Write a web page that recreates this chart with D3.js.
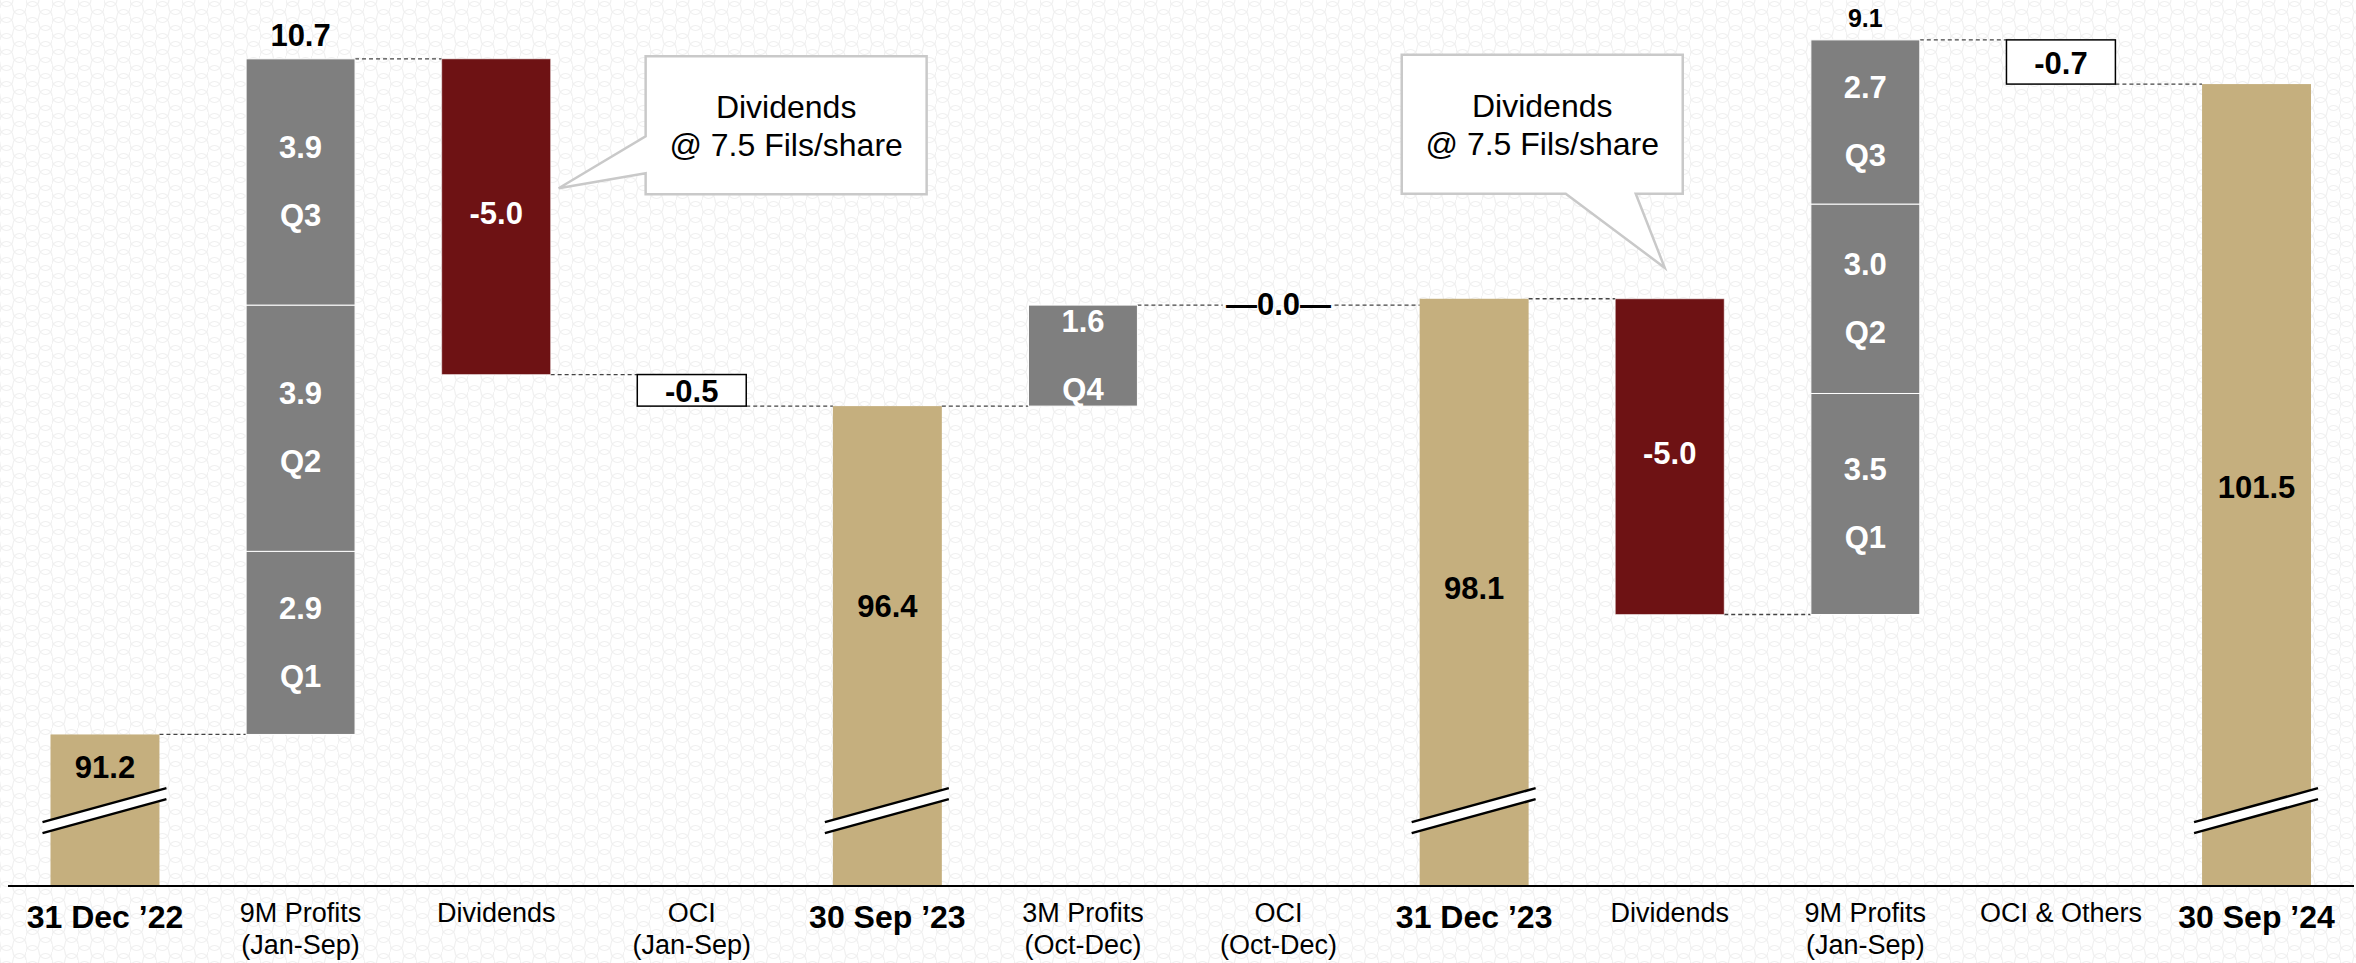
<!DOCTYPE html>
<html><head><meta charset="utf-8">
<script src="https://cdn.jsdelivr.net/npm/d3@7"></script>
<style>html,body{margin:0;padding:0;background:#fff;} svg{display:block;} text{font-family:"Liberation Sans",Arial,sans-serif;}</style>
</head><body><svg id="c" width="2356" height="963"></svg>
<script>
// ---------- DATA ----------
const categoryLines = [
  ["31 Dec ’22"], ["9M Profits", "(Jan-Sep)"], ["Dividends"], ["OCI", "(Jan-Sep)"],
  ["30 Sep ’23"], ["3M Profits", "(Oct-Dec)"], ["OCI", "(Oct-Dec)"], ["31 Dec ’23"],
  ["Dividends"], ["9M Profits", "(Jan-Sep)"], ["OCI & Others"], ["30 Sep ’24"]
];
const barTypes = ["total", "profit", "dividend", "oci", "total", "profit", "oci0", "total", "dividend", "profit", "oci", "total"];
const barValues = [91.2, 10.7, -5.0, -0.5, 96.4, 1.6, 0.0, 98.1, -5.0, 9.1, -0.7, 101.5];
const profitSegments = [[2.9, 3.9, 3.9], [1.6], [3.5, 3.0, 2.7]];
const profitQuarters = [["Q1", "Q2", "Q3"], ["Q4"], ["Q1", "Q2", "Q3"]];
const calloutLines = ["Dividends", "@ 7.5 Fils/share"];
const yDomain = [88.8, 102.8];

// ---------- STYLE ----------
const W = 2356, H = 963;
const colors = { total: "#C5AF7E", profit: "#7F7F7F", dividend: "#6E1214" };
const totalLabelOffset = [32, 200, 289, 403];   // px below bar top
const topLabelSize = [31, null, 25];
const valueSize = 31;
const font = '"Liberation Sans", Arial, sans-serif';

const svg = d3.select("#c");

// subtle background pattern
const defs = svg.append("defs");
const pat = defs.append("pattern").attr("id", "bg").attr("patternUnits", "userSpaceOnUse")
  .attr("width", 26).attr("height", 16);
pat.append("path")
  .attr("d", "M0 8 A6.5 6.5 0 0 1 13 8 A6.5 6.5 0 0 0 26 8 M-13 16 A6.5 6.5 0 0 1 0 16 A6.5 6.5 0 0 0 13 16 A6.5 6.5 0 0 1 26 16 M-13 0 A6.5 6.5 0 0 1 0 0 A6.5 6.5 0 0 0 13 0 A6.5 6.5 0 0 1 26 0")
  .attr("fill", "none").attr("stroke", "#f0f0f0").attr("stroke-width", 1.2);
svg.append("rect").attr("width", W).attr("height", H).attr("fill", "#fff");
svg.append("rect").attr("width", W).attr("height", H).attr("fill", "url(#bg)");

const x = d3.scaleBand().domain(d3.range(barValues.length)).range([50.5, 2311]).paddingInner(0.443).paddingOuter(0);
const y = d3.scaleLinear().domain(yDomain).range([886, 2]);
const bw = x.bandwidth();
const base = y(yDomain[0]);

// ---------- WATERFALL ----------
let running = null, pi = 0, ti = 0;
const bars = barValues.map((v, i) => {
  const t = barTypes[i];
  let b;
  if (t === "total") { b = { i, t, v, start: v, end: v, ti: ti++ }; running = v; }
  else {
    const s = running, e = running + v;
    b = { i, t, v, start: s, end: e, lo: Math.min(s, e), hi: Math.max(s, e) };
    if (t === "profit") { b.segs = profitSegments[pi]; b.qs = profitQuarters[pi]; b.pi = pi; pi++; }
    running = e;
  }
  return b;
});

const gConn = svg.append("g");
const gBars = svg.append("g");
const gText = svg.append("g");

const zeroHalf = 56;
// connectors
for (let i = 0; i < bars.length - 1; i++) {
  const a = bars[i], b = bars[i + 1];
  let x1 = x(i) + bw, x2 = x(i + 1);
  if (a.t === "oci0") x1 = x(i) + bw / 2 + zeroHalf;
  if (b.t === "oci0") x2 = x(i + 1) + bw / 2 - zeroHalf;
  gConn.append("line").attr("x1", x1).attr("x2", x2).attr("y1", y(a.end)).attr("y2", y(a.end))
    .attr("stroke", "#444").attr("stroke-width", 1.3).attr("stroke-dasharray", "4,3");
}

function label(g, cx, cy, txt, size, fill, weight) {
  return g.append("text").attr("x", cx).attr("y", cy).attr("dy", "0.36em")
    .attr("text-anchor", "middle").attr("font-size", size).attr("font-weight", weight || "bold")
    .attr("fill", fill).text(txt);
}

bars.forEach(b => {
  const bx = x(b.i), cx = bx + bw / 2;
  if (b.t === "total") {
    gBars.append("rect").attr("x", bx).attr("y", y(b.v)).attr("width", bw).attr("height", base - y(b.v))
      .attr("fill", colors.total);
    // break mark
    const yc = base - 75.5, slope = 0.274, xl = bx - 8, xr = bx + bw + 7;
    const yu = xx => yc - 5.5 - slope * (xx - cx);
    const yl = xx => yc + 5.5 - slope * (xx - cx);
    gBars.append("path").attr("d", `M${xl},${yu(xl)}L${xr},${yu(xr)}L${xr},${yl(xr)}L${xl},${yl(xl)}Z`).attr("fill", "#fff");
    [yu, yl].forEach(f => gBars.append("line").attr("x1", xl).attr("y1", f(xl)).attr("x2", xr).attr("y2", f(xr))
      .attr("stroke", "#000").attr("stroke-width", 2.5));
    label(gText, cx, y(b.v) + totalLabelOffset[b.ti], b.v.toFixed(1), valueSize, "#000");
  } else if (b.t === "profit") {
    let cum = b.start;
    b.segs.forEach((s, k) => {
      const s0 = cum;
      const s1 = (k === b.segs.length - 1) ? b.end : cum + s;
      cum = s1;
      gBars.append("rect").attr("x", bx).attr("y", y(s1)).attr("width", bw).attr("height", y(s0) - y(s1))
        .attr("fill", colors.profit).attr("stroke", "#fff").attr("stroke-width", 1);
      const mid = (y(s0) + y(s1)) / 2;
      label(gText, cx, mid - 35, s.toFixed(1), valueSize, "#fff");
      label(gText, cx, mid + 33, b.qs[k], valueSize, "#fff");
    });
    if (b.segs.length > 1) {
      const sz = topLabelSize[b.pi];
      gText.append("text").attr("x", cx).attr("y", y(b.end) - 13).attr("text-anchor", "middle")
        .attr("font-size", sz).attr("font-weight", "bold").attr("fill", "#000").text(b.v.toFixed(1));
    }
  } else if (b.t === "dividend") {
    gBars.append("rect").attr("x", bx).attr("y", y(b.hi)).attr("width", bw).attr("height", y(b.lo) - y(b.hi))
      .attr("fill", colors.dividend).attr("stroke", "#fff").attr("stroke-opacity", 0.5).attr("stroke-width", 1);
    label(gText, cx, (y(b.hi) + y(b.lo)) / 2 - 4, b.v.toFixed(1), valueSize, "#fff");
  } else if (b.t === "oci") {
    gBars.append("rect").attr("x", bx).attr("y", y(b.hi)).attr("width", bw).attr("height", y(b.lo) - y(b.hi))
      .attr("fill", "#fff").attr("stroke", "#000").attr("stroke-width", 1.5);
    label(gText, cx, (y(b.hi) + y(b.lo)) / 2 + 1, b.v.toFixed(1), valueSize, "#000");
  } else if (b.t === "oci0") {
    label(gText, cx, y(b.end) - 1, "—" + b.v.toFixed(1) + "—", valueSize, "#000");
  }
});

// ---------- CALLOUTS ----------
function callout(tip, box, tail) {
  const g = svg.append("g");
  let d;
  if (tail === "left") {
    d = `M${box.x},${box.y}H${box.x + box.w}V${box.y + box.h}H${box.x}V${tip[1] - 15}L${tip[0]},${tip[1]}L${box.x},${tip[1] - 52}Z`;
  } else {
    d = `M${box.x},${box.y}H${box.x + box.w}V${box.y + box.h}H${tip[0] - 29}L${tip[0]},${tip[1]}L${tip[0] - 99},${box.y + box.h}H${box.x}Z`;
  }
  g.append("path").attr("d", d).attr("fill", "#fff").attr("stroke", "#c9c9c9").attr("stroke-width", 2.5)
    .attr("stroke-linejoin", "miter");
  calloutLines.forEach((t, k) => g.append("text").attr("x", box.x + box.w / 2).attr("y", box.y + 62 + k * 38)
    .attr("text-anchor", "middle").attr("font-size", 32).attr("fill", "#000").text(t));
}
const t1 = [x(2) + bw + 8, y(99.85)];
callout(t1, { x: t1[0] + 87, y: t1[1] - 132, w: 281, h: 138 }, "left");
const t2 = [x(8) + bw / 2 - 5, y(98.1) - 31];
callout(t2, { x: t2[0] - 263, y: t2[1] - 213, w: 281, h: 139 }, "bottom");

// ---------- AXIS ----------
svg.append("line").attr("x1", 8).attr("x2", 2354).attr("y1", base).attr("y2", base)
  .attr("stroke", "#000").attr("stroke-width", 2);
const ax = svg.append("g").attr("transform", `translate(0,${base})`)
  .call(d3.axisBottom(x).tickSize(0).tickFormat(() => ""));
ax.select(".domain").remove();
ax.attr("font-family", font);
ax.selectAll(".tick text").each(function (i) {
  const t = d3.select(this).attr("y", null).attr("dy", null).attr("fill", "#000");
  const lines = categoryLines[i];
  const isTotal = barTypes[i] === "total";
  t.attr("font-size", isTotal ? 32 : 27).attr("font-weight", isTotal ? "bold" : "normal");
  lines.forEach((ln, k) => t.append("tspan").attr("x", 0).attr("y", isTotal ? 42 : 36 + k * 32).text(ln));
});
</script></body></html>
